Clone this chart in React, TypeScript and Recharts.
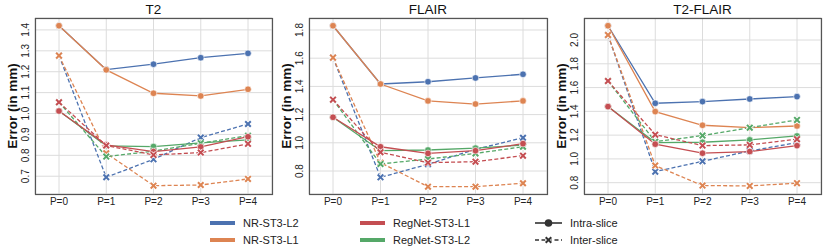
import React from 'react';
import { CartesianGrid, Line, LineChart, XAxis, YAxis } from 'recharts';

const categories = ['P=0', 'P=1', 'P=2', 'P=3', 'P=4'];

// T2
const t2NrL2Intra = [1.42, 1.21, 1.236, 1.267, 1.288];
const t2NrL2Inter = [1.277, 0.695, 0.781, 0.885, 0.95];
const t2NrL1Intra = [1.42, 1.209, 1.097, 1.084, 1.116];
const t2NrL1Inter = [1.277, 0.81, 0.655, 0.658, 0.687];
const t2RegL1Intra = [1.012, 0.85, 0.818, 0.84, 0.889];
const t2RegL1Inter = [1.054, 0.847, 0.802, 0.813, 0.855];
const t2RegL2Intra = [1.012, 0.845, 0.842, 0.86, 0.874];
const t2RegL2Inter = [1.054, 0.794, 0.82, 0.858, 0.894];

// FLAIR
const flNrL2Intra = [1.83, 1.417, 1.433, 1.46, 1.486];
const flNrL2Inter = [1.604, 0.755, 0.848, 0.954, 1.036];
const flNrL1Intra = [1.83, 1.417, 1.297, 1.275, 1.297];
const flNrL1Inter = [1.604, 0.859, 0.689, 0.689, 0.713];
const flRegL1Intra = [1.181, 0.972, 0.925, 0.944, 0.994];
const flRegL1Inter = [1.306, 0.933, 0.859, 0.866, 0.909];
const flRegL2Intra = [1.181, 0.944, 0.949, 0.962, 0.984];
const flRegL2Inter = [1.306, 0.85, 0.885, 0.925, 0.972];

// T2-FLAIR
const tfNrL2Intra = [2.12, 1.468, 1.482, 1.504, 1.524];
const tfNrL2Inter = [2.042, 0.893, 0.98, 1.067, 1.137];
const tfNrL1Intra = [2.12, 1.398, 1.283, 1.263, 1.277];
const tfNrL1Inter = [2.042, 0.944, 0.776, 0.773, 0.796];
const tfRegL1Intra = [1.44, 1.124, 1.048, 1.062, 1.112];
const tfRegL1Inter = [1.655, 1.204, 1.112, 1.118, 1.166];
const tfRegL2Intra = [1.44, 1.137, 1.14, 1.16, 1.193];
const tfRegL2Inter = [1.655, 1.145, 1.196, 1.263, 1.328];

const t2Ticks = [0.7, 0.8, 0.9, 1.0, 1.1, 1.2, 1.3, 1.4];
const flTicks = [0.8, 1.0, 1.2, 1.4, 1.6, 1.8];
const tfTicks = [0.8, 1.0, 1.2, 1.4, 1.6, 1.8, 2.0];

const models = ['NR-ST3-L2', 'NR-ST3-L1', 'RegNet-ST3-L1', 'RegNet-ST3-L2'];
const colors: Record<string, string> = {
  'NR-ST3-L2': '#4C72B0',
  'NR-ST3-L1': '#DD8452',
  'RegNet-ST3-L1': '#C44E52',
  'RegNet-ST3-L2': '#55A868',
};
const FONT = '"Liberation Sans", Arial, sans-serif';

// draw order like seaborn's hue order
const series = [
  { key: 'nrL2Intra', model: 'NR-ST3-L2', dashed: false },
  { key: 'nrL2Inter', model: 'NR-ST3-L2', dashed: true },
  { key: 'nrL1Intra', model: 'NR-ST3-L1', dashed: false },
  { key: 'nrL1Inter', model: 'NR-ST3-L1', dashed: true },
  { key: 'regL2Intra', model: 'RegNet-ST3-L2', dashed: false },
  { key: 'regL2Inter', model: 'RegNet-ST3-L2', dashed: true },
  { key: 'regL1Intra', model: 'RegNet-ST3-L1', dashed: false },
  { key: 'regL1Inter', model: 'RegNet-ST3-L1', dashed: true },
];

function rows(v: Record<string, number[]>) {
  return categories.map((p, i) => {
    const r: Record<string, any> = { p };
    Object.keys(v).forEach((k) => (r[k] = v[k][i]));
    return r;
  });
}

const t2Data = rows({
  nrL2Intra: t2NrL2Intra, nrL2Inter: t2NrL2Inter, nrL1Intra: t2NrL1Intra, nrL1Inter: t2NrL1Inter,
  regL1Intra: t2RegL1Intra, regL1Inter: t2RegL1Inter, regL2Intra: t2RegL2Intra, regL2Inter: t2RegL2Inter,
});
const flData = rows({
  nrL2Intra: flNrL2Intra, nrL2Inter: flNrL2Inter, nrL1Intra: flNrL1Intra, nrL1Inter: flNrL1Inter,
  regL1Intra: flRegL1Intra, regL1Inter: flRegL1Inter, regL2Intra: flRegL2Intra, regL2Inter: flRegL2Inter,
});
const tfData = rows({
  nrL2Intra: tfNrL2Intra, nrL2Inter: tfNrL2Inter, nrL1Intra: tfNrL1Intra, nrL1Inter: tfNrL1Inter,
  regL1Intra: tfRegL1Intra, regL1Inter: tfRegL1Inter, regL2Intra: tfRegL2Intra, regL2Inter: tfRegL2Inter,
});

const panels = [
  { title: 'T2', data: t2Data, ticks: t2Ticks, domain: [0.615, 1.457], left: 35, right: 272 },
  { title: 'FLAIR', data: flData, ticks: flTicks, domain: [0.637, 1.885], left: 309, right: 547 },
  { title: 'T2-FLAIR', data: tfData, ticks: tfTicks, domain: [0.705, 2.185], left: 584, right: 821 },
];

const TOP = 18;
const BOTTOM = 194;

function XMark({ cx, cy, color }: { cx: number; cy: number; color: string }) {
  const s = 2.8;
  return (
    <g>
      <path d={`M${cx - s},${cy - s}L${cx + s},${cy + s}M${cx - s},${cy + s}L${cx + s},${cy - s}`}
        stroke="#fff" strokeWidth={3.4} />
      <path d={`M${cx - s},${cy - s}L${cx + s},${cy + s}M${cx - s},${cy + s}L${cx + s},${cy - s}`}
        stroke={color} strokeWidth={2} />
    </g>
  );
}

function YTick(props: any) {
  const { x, y, payload } = props;
  return (
    <text transform={`translate(${x - 10},${y}) rotate(-90)`} textAnchor="middle" dy="0.35em"
      fontSize={10} fontFamily={FONT} fill="#222">
      {Number(payload.value).toFixed(1)}
    </text>
  );
}

function Panel({ p }: { p: (typeof panels)[number] }) {
  const yw = 20;
  const ml = 15;
  const w = p.right - p.left + ml + yw + 6;
  const h = 215;
  return (
    <div style={{ position: 'absolute', left: p.left - ml - yw, top: 0 }}>
      <LineChart width={w} height={h} data={p.data}
        margin={{ top: TOP, left: ml, right: 6, bottom: h - BOTTOM - 20 }}>
        <CartesianGrid stroke="#dcdcdc" strokeWidth={1} />
        <XAxis dataKey="p" padding={{ left: 24, right: 24 }} tickLine={false} axisLine={false}
          tickSize={0} tickMargin={4} height={20} interval={0}
          tick={{ fontSize: 10, fontFamily: FONT, fill: '#222' }} />
        <YAxis type="number" domain={p.domain} ticks={p.ticks} allowDataOverflow width={yw} interval={0}
          tickLine={false} axisLine={false} tickSize={0} tickMargin={0} tick={<YTick />} />
        {series.map((s) => {
          const c = colors[s.model];
          return (
            <Line key={s.key} dataKey={s.key} stroke={c} strokeWidth={1.3} type="linear"
              strokeDasharray={s.dashed ? '4 2.2' : undefined} isAnimationActive={false}
              dot={s.dashed
                ? (d: any) => <XMark key={`${s.key}-${d.index}`} cx={d.cx} cy={d.cy} color={c} />
                : { r: 3.3, fill: c, stroke: '#fff', strokeWidth: 0.6, strokeDasharray: '' }}
              activeDot={false} />
          );
        })}
      </LineChart>
    </div>
  );
}

export default function App() {
  return (
    <div style={{ position: 'absolute', left: 0, top: 0, width: 830, height: 250, background: '#fff', fontFamily: FONT }}>
      {panels.map((p) => <Panel key={p.title} p={p} />)}
      <svg width={830} height={250} style={{ position: 'absolute', left: 0, top: 0, pointerEvents: 'none' }}>
        {panels.map((p) => (
          <g key={p.title}>
            <rect x={p.left + 0.5} y={TOP + 0.5} width={p.right - p.left} height={BOTTOM - TOP}
              fill="none" stroke="#555" strokeWidth={1.2} />
            <text x={(p.left + p.right) / 2} y={14} textAnchor="middle" fontSize={13.5} fontWeight="normal"
              fill="#111">{p.title}</text>
            <text transform={`translate(${p.left - 23},${(TOP + BOTTOM) / 2}) rotate(-90)`} textAnchor="middle"
              dy="0.35em" fontSize={13.5} fontWeight="bold" fill="#111">Error (in mm)</text>
          </g>
        ))}
        {models.map((m, i) => {
          const x = 210 + Math.floor(i / 2) * 150;
          const y = i % 2 === 0 ? 223 : 240;
          return (
            <g key={m}>
              <rect x={x} y={y - 2} width={25} height={4} fill={colors[m]} />
              <text x={x + 33} y={y} dy="0.35em" fontSize={11} fill="#222">{m}</text>
            </g>
          );
        })}
        <g>
          <line x1={535} x2={562} y1={223} y2={223} stroke="#333" strokeWidth={1.6} />
          <circle cx={548.5} cy={223} r={3.8} fill="#333" />
          <text x={570} y={223} dy="0.35em" fontSize={11} fill="#222">Intra-slice</text>
          <line x1={535} x2={562} y1={240} y2={240} stroke="#333" strokeWidth={1.6} strokeDasharray="4 2.5" />
          <XMark cx={548.5} cy={240} color="#333" />
          <text x={570} y={240} dy="0.35em" fontSize={11} fill="#222">Inter-slice</text>
        </g>
      </svg>
    </div>
  );
}
